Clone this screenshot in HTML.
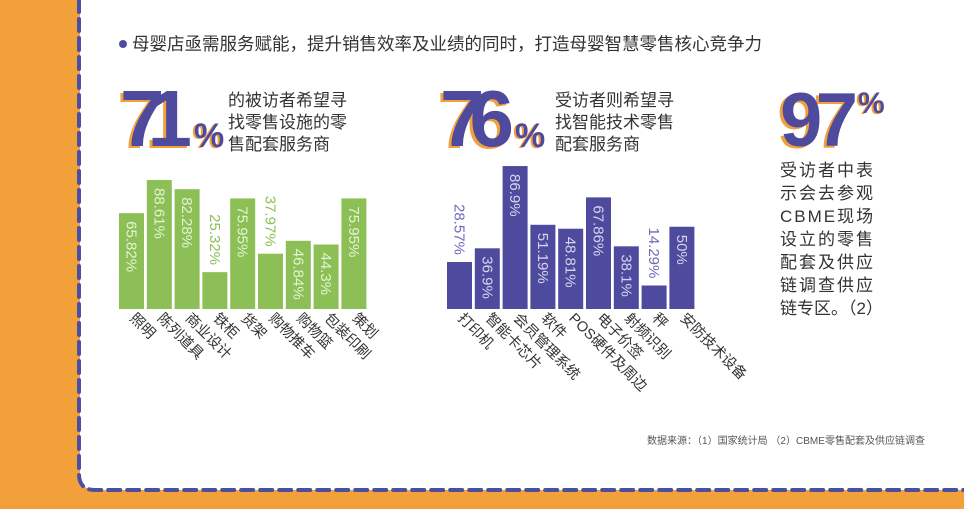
<!DOCTYPE html>
<html><head><meta charset="utf-8"><style>
body{margin:0;width:964px;height:509px;overflow:hidden;background:#f2a03a;font-family:"Liberation Sans","Noto Sans CJK SC",sans-serif}
svg{display:block}
text{font-family:"Liberation Sans","Noto Sans CJK SC",sans-serif}
</style></head><body>
<svg id="c" width="964" height="509" xmlns="http://www.w3.org/2000/svg">
<path d="M80,0 H964 V490 H96 Q80,490 80,474 Z" fill="#fff"/>
<path d="M79,0 V474 Q79,490 95,490 H964" fill="none" stroke="#4a50a0" stroke-width="4" stroke-dasharray="12,7" stroke-linecap="round"/>
<circle cx="123" cy="44" r="4" fill="#4e4a9e"/>
<text x="132" y="50" font-size="17.5" fill="#333">母婴店亟需服务赋能，提升销售效率及业绩的同时，打造母婴智慧零售核心竞争力</text>
<g>
<text x="117" y="148" font-size="80" font-weight="bold" fill="#f2a03a" textLength="72">71</text>
<text x="120" y="146" font-size="80" font-weight="bold" fill="#4e4a9e" textLength="72">71</text>
<text x="192" y="148" font-size="34" font-weight="bold" fill="#f2a03a">%</text>
<text x="194" y="147" font-size="34" font-weight="bold" fill="#4e4a9e">%</text>
<text x="228" y="106" font-size="17" fill="#333">的被访者希望寻</text>
<text x="228" y="128" font-size="17" fill="#333">找零售设施的零</text>
<text x="228" y="150" font-size="17" fill="#333">售配套服务商</text>
</g>
<g>
<text x="437" y="148" font-size="80" font-weight="bold" fill="#f2a03a" textLength="74">76</text>
<text x="440" y="146" font-size="80" font-weight="bold" fill="#4e4a9e" textLength="74">76</text>
<text x="513" y="148" font-size="34" font-weight="bold" fill="#f2a03a">%</text>
<text x="515" y="147" font-size="34" font-weight="bold" fill="#4e4a9e">%</text>
<text x="555" y="106" font-size="17" fill="#333">受访者则希望寻</text>
<text x="555" y="128" font-size="17" fill="#333">找智能技术零售</text>
<text x="555" y="150" font-size="17" fill="#333">配套服务商</text>
</g>
<g>
<text x="777" y="148" font-size="76" font-weight="bold" fill="#f2a03a" textLength="78">97</text>
<text x="780" y="146" font-size="76" font-weight="bold" fill="#4e4a9e" textLength="78">97</text>
<text x="856" y="114" font-size="30" font-weight="bold" fill="#f2a03a">%</text>
<text x="858" y="113" font-size="30" font-weight="bold" fill="#4e4a9e">%</text>
<g font-size="17" fill="#333" letter-spacing="2">
<text x="780" y="176">受访者中表</text>
<text x="780" y="199">示会去参观</text>
<text x="780" y="222">CBME现场</text>
<text x="780" y="245">设立的零售</text>
<text x="780" y="268">配套及供应</text>
<text x="780" y="291">链调查供应</text>
<text x="780" y="314" letter-spacing="0">链专区。（2）</text>
</g>
</g>
<text x="647" y="444" font-size="10" fill="#555" textLength="278">数据来源：（1）国家统计局 （2）CBME零售配套及供应链调查</text>
<g id="left"></g>
<g id="right"></g>
</svg>
<script>
const leftCats=["照明","陈列道具","商业设计","铁柜","货架","购物推车","购物篮","包装印刷","策划"];
const leftVals=[65.82,88.61,82.28,25.32,75.95,37.97,46.84,44.3,75.95];
const leftLabels=["65.82%","88.61%","82.28%","25.32%","75.95%","37.97%","46.84%","44.3%","75.95%"];
const rightCats=["打印机","智能卡芯片","会员管理系统","软件","POS硬件及周边","电子价签","射频识别","秤","安防技术设备"];
const rightVals=[28.57,36.9,86.9,51.19,48.81,67.86,38.1,14.29,50];
const rightLabels=["28.57%","36.9%","86.9%","51.19%","48.81%","67.86%","38.1%","14.29%","50%"];
const NS="http://www.w3.org/2000/svg";
function draw(gid,cats,vals,labels,x0,scale,color,inColor,outColor,prefix){
  const g=document.getElementById(gid);
  const base=309,step=27.8,w=25;
  const xs=i=>x0+i*step;
  const ys=v=>base-v*scale;
  vals.forEach((v,i)=>{
    const r=document.createElementNS(NS,"rect");
    
    
    r.setAttribute("x",xs(i));r.setAttribute("y",ys(v));r.setAttribute("width",w);r.setAttribute("height",base-ys(v));r.setAttribute("fill",color);
    g.appendChild(r);
    const h=base-ys(v);
    const inside=h>60;
    const t=document.createElementNS(NS,"text");
    
    
    const cx=xs(i)+w/2-5, ty=inside?ys(v)+8:ys(v)-58;
    t.setAttribute("transform","translate("+cx+","+ty+") rotate(90)");
    t.setAttribute("font-size","15");t.setAttribute("fill",inside?inColor:outColor);
    t.textContent=labels[i];g.appendChild(t);
    const c=document.createElementNS(NS,"text");
    
    
    c.setAttribute("transform","translate("+(xs(i)+10)+","+(base+10)+") rotate(45)");
    c.setAttribute("font-size","14.5");c.setAttribute("fill","#333");
    c.textContent=cats[i];g.appendChild(c);
  });
}
draw("left",leftCats,leftVals,leftLabels,119,1.456,"#8cc056","#e4f3d3","#8cc056","left");
draw("right",rightCats,rightVals,rightLabels,447,1.645,"#4e4a9e","#d6d4f0","#6e6ab8","right");
</script>
</body></html>
